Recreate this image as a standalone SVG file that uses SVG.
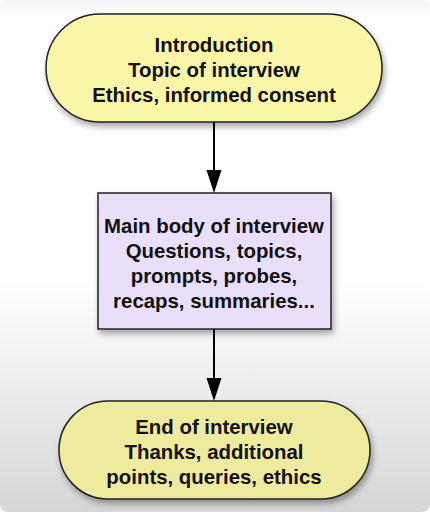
<svg xmlns="http://www.w3.org/2000/svg" width="430" height="512" viewBox="0 0 430 512">
  <defs>
    <linearGradient id="bg" x1="0" y1="0" x2="0" y2="1">
      <stop offset="0" stop-color="#f4f4f4"/>
      <stop offset="0.03" stop-color="#ffffff"/>
      <stop offset="0.55" stop-color="#ffffff"/>
      <stop offset="0.7" stop-color="#f2f2f2"/>
      <stop offset="1" stop-color="#d6d6d6"/>
    </linearGradient>
    <filter id="sh" x="-10%" y="-10%" width="125%" height="130%">
      <feDropShadow dx="2" dy="4" stdDeviation="3" flood-color="#000" flood-opacity="0.35"/>
    </filter>
    <style>
      .node { stroke: #222; stroke-width: 1.5; filter: url(#sh); }
      .pill1 { fill: #faf6a8; }
      .pill2 { fill: #efeb9e; }
      .box { fill: #e9dffb; }
      .t { font-family: "Liberation Sans", Arial, sans-serif; font-weight: bold; font-size: 20.4px; fill: #111; text-anchor: middle; }
      .conn { stroke: #000; stroke-width: 2; fill: none; }
    </style>
  </defs>
  <rect x="0" y="0" width="430" height="512" rx="8" fill="url(#bg)"/>

  <g id="connectors">
    <line class="conn" x1="214" y1="122" x2="214" y2="170"/>
    <path d="M206.5,170 L221.5,170 L214,193 Z" fill="#000"/>
    <line class="conn" x1="214" y1="329" x2="214" y2="378"/>
    <path d="M206.5,378 L221.5,378 L214,401 Z" fill="#000"/>
  </g>

  <g id="intro">
    <rect class="node pill1" x="46" y="14" width="336" height="108" rx="54" ry="54"/>
    <text class="t" x="214" y="52">Introduction</text>
    <text class="t" x="214" y="77">Topic of interview</text>
    <text class="t" x="214" y="102">Ethics, informed consent</text>
  </g>

  <g id="main">
    <rect class="node box" x="98" y="193" width="233" height="136"/>
    <text class="t" x="214" y="233">Main body of interview</text>
    <text class="t" x="214" y="258">Questions, topics,</text>
    <text class="t" x="214" y="283">prompts, probes,</text>
    <text class="t" x="214" y="308">recaps, summaries...</text>
  </g>

  <g id="end">
    <rect class="node pill2" x="59" y="401" width="311" height="98" rx="49" ry="49"/>
    <text class="t" x="214" y="434">End of interview</text>
    <text class="t" x="214" y="459">Thanks, additional</text>
    <text class="t" x="214" y="484">points, queries, ethics</text>
  </g>
</svg>
